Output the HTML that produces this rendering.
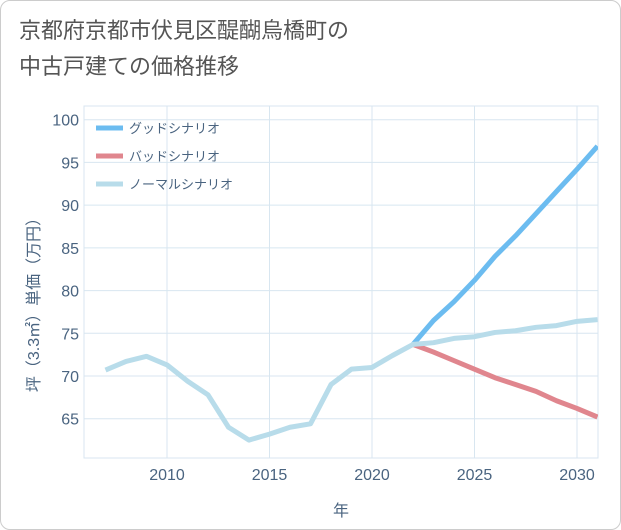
<!DOCTYPE html>
<html><head><meta charset="utf-8"><style>
body{margin:0;background:#fff;}
#wrap{position:relative;width:619px;height:528px;border:1px solid #ccc;border-radius:10px;overflow:hidden;background:#fff;}
#title{position:absolute;left:18px;top:12px;font:22px "Liberation Sans","Noto Sans CJK JP",sans-serif;color:#555;line-height:36px;}
svg text{font-family:"Liberation Sans","Noto Sans CJK JP",sans-serif;}
</style></head><body>
<div id="wrap">
<div id="title">京都府京都市伏見区醍醐烏橋町の<br>中古戸建ての価格推移</div>
<svg id="chart" width="621" height="530" style="position:absolute;left:0;top:0"></svg>
</div>
<script>
const years=[2007,2008,2009,2010,2011,2012,2013,2014,2015,2016,2017,2018,2019,2020,2021,2022,2023,2024,2025,2026,2027,2028,2029,2030,2031];
const normalVals=[70.7,71.7,72.3,71.3,69.4,67.8,64.0,62.5,63.2,64.0,64.4,69.0,70.8,71.0,72.4,73.7,73.9,74.4,74.6,75.1,75.3,75.7,75.9,76.4,76.6];
const futureYears=[2022,2023,2024,2025,2026,2027,2028,2029,2030,2031];
const goodVals=[73.7,76.5,78.7,81.2,84.0,86.4,89.0,91.6,94.2,96.9];
const badVals=[73.7,72.8,71.8,70.8,69.8,69.0,68.2,67.1,66.2,65.2];
const xTicks=[2010,2015,2020,2025,2030];
const yTicks=[65,70,75,80,85,90,95,100];
const legendLabels=['グッドシナリオ','バッドシナリオ','ノーマルシナリオ'];
const legendColors=['#6cbcf0','#e0868e','#b8dcea'];

const NS='http://www.w3.org/2000/svg';
const svg=document.getElementById('chart');
const L=83,R=597,T=105,B=457;
const x=v=>166+(v-2010)*(576-166)/20;
const y=v=>375-(v-70)*(299/35);
function mk(tag,attrs){const e=document.createElementNS(NS,tag);for(const k in attrs)e.setAttribute(k,attrs[k]);svg.appendChild(e);return e;}
const frame=mk('rect',{x:L,y:T,width:R-L,height:B-T,fill:'none',stroke:'#d8e6f0'});


xTicks.forEach(t=>{
 const g=mk('line',{x1:x(t),x2:x(t),y1:T,y2:B,stroke:'#d8e6f0'});
 
 
 const tx=mk('text',{x:x(t),y:479,'text-anchor':'middle','font-size':16,fill:'#4a6480'});
 tx.textContent=t;
 
 
});
yTicks.forEach(t=>{
 const g=mk('line',{x1:L,x2:R,y1:y(t),y2:y(t),stroke:'#d8e6f0'});
 
 
 const tx=mk('text',{x:78,y:y(t)+6,'text-anchor':'end','font-size':16,fill:'#4a6480'});
 tx.textContent=t;
 
 
});
const xt=mk('text',{x:340,y:515,'text-anchor':'middle','font-size':16,fill:'#4a6480'});
xt.textContent='年';


const yt=mk('text',{x:0,y:0,'text-anchor':'middle','font-size':16,fill:'#4a6480',transform:'translate(38,300) rotate(-90)'});
yt.textContent='坪（3.3㎡）単価（万円）';


const cp=mk('clipPath',{id:'cp'});
const cr=document.createElementNS(NS,'rect');cr.setAttribute('x',L);cr.setAttribute('y',T);cr.setAttribute('width',R-L);cr.setAttribute('height',B-T);cp.appendChild(cr);
function line(xs,vs,color,name){
 const p=mk('polyline',{points:xs.map((v,i)=>x(v)+','+y(vs[i])).join(' '),fill:'none',stroke:color,'stroke-width':5,'stroke-linejoin':'round','clip-path':'url(#cp)'});
 
 
}
line(futureYears,goodVals,legendColors[0],'good-scenario-line');
line(futureYears,badVals,legendColors[1],'bad-scenario-line');
line(years,normalVals,legendColors[2],'normal-scenario-line');
legendLabels.forEach((lb,i)=>{
 const ly=127+i*28;
 const s=mk('line',{x1:95,x2:122,y1:ly,y2:ly,stroke:legendColors[i],'stroke-width':5});
 
 
 const t=mk('text',{x:128,y:ly+5,'font-size':13,fill:'#4a6480'});
 t.textContent=lb;
 
 
});
</script>
</body></html>
